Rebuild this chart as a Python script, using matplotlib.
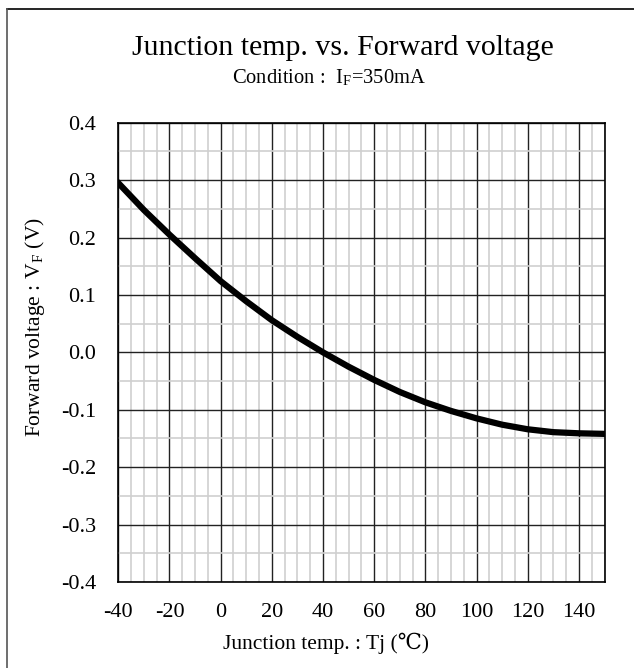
import matplotlib
matplotlib.use("Agg")
import matplotlib.pyplot as plt
import numpy as np
from matplotlib.lines import Line2D

# junction temp (C) vs forward voltage shift (V)
tj = [-40, -30, -20, -10, 0, 10, 20, 30, 40, 50, 60, 70, 80, 90, 100, 110, 120, 130, 140, 150]
vf = [0.295, 0.248, 0.205, 0.164, 0.124, 0.089, 0.056, 0.027, 0.0, -0.025,
      -0.048, -0.069, -0.087, -0.102, -0.115, -0.126, -0.134, -0.139, -0.141, -0.142]

xticks = [-40, -20, 0, 20, 40, 60, 80, 100, 120, 140]
yticks = [-0.4, -0.3, -0.2, -0.1, 0.0, 0.1, 0.2, 0.3, 0.4]

plt.rcParams['font.family'] = ['Liberation Serif', 'DejaVu Serif']
plt.rcParams['mathtext.fontset'] = 'stix'

fig = plt.figure(figsize=(6.34, 6.68), dpi=100)
W, H = 634, 668
ax = fig.add_axes([118.3 / W, 1 - 582 / H, (604.5 - 118.3) / W, (582 - 122.7) / H])

ax.plot(tj, vf, color='black', lw=4.5, solid_joinstyle='round', zorder=5)

ax.set_xlim(-40, 150)
ax.set_ylim(-0.4, 0.4)
ax.set_xticks(xticks)
ax.set_yticks(yticks)
ax.set_xticks(np.arange(-40, 151, 5), minor=True)
ax.set_yticks(np.arange(-0.4, 0.401, 0.05), minor=True)
ax.set_xticklabels([str(t) for t in xticks])
ax.set_yticklabels(['%.1f' % t for t in yticks])
ax.grid(which='minor', color='#cfcfcf', lw=1.2)
ax.grid(which='major', color='#222222', lw=1.0)
ax.tick_params(which='both', length=0, labelsize=16)
ax.tick_params(axis='x', pad=15)
ax.tick_params(axis='y', pad=16)
for s in ax.spines.values():
    s.set_color('black')
    s.set_linewidth(1.2)

ax.set_xlabel('Junction temp. : Tj (\u2103)', fontsize=15.5, va='center')
ax.set_ylabel('Forward voltage : V$_\\mathregular{F}$ (V)', fontsize=15.5, va='center')
ax.xaxis.set_label_coords((326 - 118.3) / (604.5 - 118.3), -(643 - 582) / (582 - 122.7))
ax.yaxis.set_label_coords(-(118.3 - 35) / (604.5 - 118.3), (582 - 327) / (582 - 122.7))

fig.text(343 / W, 1 - 48 / H, 'Junction temp. vs. Forward voltage', ha='center', va='center', fontsize=21.5)
fig.text(329 / W, 1 - 78 / H, 'Condition :  I$_\\mathregular{F}$=350mA', ha='center', va='center', fontsize=14.8)

# frame lines (only top and left show)
fig.add_artist(Line2D([7 / W, 1], [1 - 9 / H, 1 - 9 / H], color='black', lw=1.2))
fig.add_artist(Line2D([7 / W, 7 / W], [0, 1 - 9 / H], color='#555555', lw=1.2))

fig.savefig('out.png', dpi=100)
